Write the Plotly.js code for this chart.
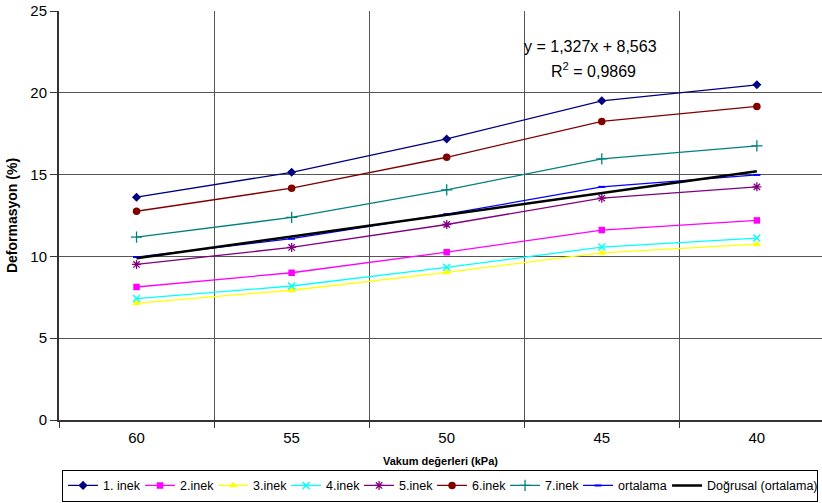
<!DOCTYPE html>
<html>
<head>
<meta charset="utf-8">
<script src="https://cdn.plot.ly/plotly-3.0.1.min.js"></script>
<style>html,body{margin:0;padding:0;background:#fff;overflow:hidden}#chart{width:822px;height:503px}</style>
</head>
<body>
<div id="chart"></div>
<script>
const categories = ["60", "55", "50", "45", "40"];
const inek1 = [13.62, 15.14, 17.18, 19.51, 20.49];
const inek2 = [8.13, 9.00, 10.26, 11.61, 12.20];
const inek3 = [7.15, 7.93, 9.02, 10.22, 10.75];
const inek4 = [7.42, 8.19, 9.33, 10.57, 11.12];
const inek5 = [9.51, 10.55, 11.95, 13.56, 14.25];
const inek6 = [12.76, 14.17, 16.06, 18.25, 19.17];
const inek7 = [11.18, 12.38, 14.07, 15.96, 16.75];
const ortalama = [9.96, 11.08, 12.58, 14.25, 14.98];
const trend = [9.89, 11.22, 12.54, 13.87, 15.20];
const yTicks = [0, 5, 10, 15, 20, 25];

function s(name, y, color, symbol, size, lw, legw) {
  return {
    type: 'scatter', mode: 'lines+markers', name: name, x: categories, y: y,
    legendwidth: legw,
    line: {color: color, width: 1.3},
    marker: {color: color, symbol: symbol, size: size, line: {color: color, width: lw}}
  };
}

const data = [
  s('1. inek', inek1, '#000080', 'diamond', 7, 0, 32),
  s('2.inek', inek2, '#FF00FF', 'square', 6.5, 0, 28),
  s('3.inek', inek3, '#FFFF00', 'triangle-up', 7.5, 0, 28),
  s('4.inek', inek4, '#00FFFF', 'x-thin', 7, 1.4, 28),
  s('5.inek', inek5, '#800080', 'asterisk', 7.5, 1.3, 28),
  s('6.inek', inek6, '#800000', 'circle', 7.5, 0, 28),
  s('7.inek', inek7, '#008080', 'cross-thin', 8, 1.3, 28),
  s('ortalama', ortalama, '#0000FF', 'line-ew', 5, 2, 44),
  {type: 'scatter', mode: 'lines', name: 'Doğrusal (ortalama)', x: categories, y: trend,
   legendwidth: 105, line: {color: '#000000', width: 2.5}}
];

const layout = {
  width: 822, height: 503,
  margin: {l: 59, r: 0, t: 11, b: 83},
  paper_bgcolor: '#fff', plot_bgcolor: '#fff',
  font: {family: 'Liberation Sans, Arial, sans-serif', size: 12, color: '#000'},
  showlegend: true,
  xaxis: {
    type: 'category', range: [-0.5, 4.42], tickson: 'boundaries',
    showgrid: true, gridcolor: '#555', gridwidth: 1,
    ticks: 'outside', ticklen: 6, tickcolor: '#333',
    showline: true, linecolor: '#333', linewidth: 2,
    tickfont: {size: 15}, ticklabelstandoff: 3, zeroline: false,
    title: {text: '<b>Vakum değerleri (kPa)</b>', font: {size: 11}, standoff: 12}
  },
  yaxis: {
    range: [0, 25], tickvals: yTicks, ticktext: yTicks.map(String),
    showgrid: true, gridcolor: '#555', gridwidth: 1,
    ticks: 'outside', ticklen: 7, tickcolor: '#333',
    showline: true, linecolor: '#333', linewidth: 2, zeroline: false,
    tickfont: {size: 15},
    title: {text: '<b>Deformasyon (%)</b>', font: {size: 14}, standoff: 9}
  },
  legend: {
    orientation: 'h', x: 0.004, y: -0.2, xanchor: 'left', yanchor: 'bottom',
    bordercolor: '#000', borderwidth: 1, bgcolor: '#fff',
    font: {size: 12.5}, itemwidth: 30, tracegroupgap: 0
  },
  annotations: [
    {xref: 'paper', yref: 'y', x: 0.697, y: 22.86, xanchor: 'center', yanchor: 'middle',
     text: 'y = 1,327x + 8,563', showarrow: false, font: {size: 16}},
    {xref: 'paper', yref: 'y', x: 0.700, y: 21.39, xanchor: 'center', yanchor: 'middle',
     text: 'R<sup>2</sup> = 0,9869', showarrow: false, font: {size: 16}}
  ]
};

Plotly.newPlot('chart', data, layout, {displayModeBar: false, staticPlot: true});
</script>
</body>
</html>
